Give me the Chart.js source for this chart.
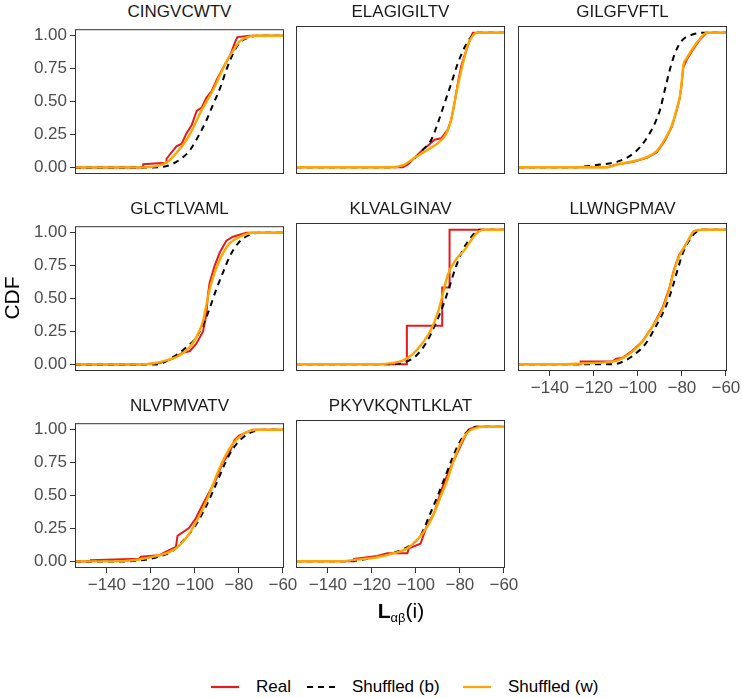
<!DOCTYPE html>
<html>
<head>
<meta charset="utf-8">
<script src="https://cdn.jsdelivr.net/npm/chart.js@4.4.1/dist/chart.umd.min.js"></script>
<style>
  body { margin: 0; background: #fff; font-family: 'Liberation Sans', Arial, sans-serif; }
  #wrap { position: relative; width: 742px; height: 698px; overflow: hidden; }
  #wrap canvas { position: absolute; }
  .strip { position: absolute; width: 209px; text-align: center; font-size: 17px; line-height: 20px; color: #1a1a1a; }
  .ytitle { position: absolute; left: -18px; top: 286px; width: 60px; text-align: center; font-size: 21px; line-height: 24px; transform: rotate(-90deg); color: #000; }
  .xtitle { position: absolute; left: 301px; top: 598px; width: 200px; text-align: center; font-size: 21px; line-height: 26px; color: #000; }
  .xtitle sub { font-size: 13px; vertical-align: -4px; }
  .key { position: absolute; top: 678px; }
  .ktext { position: absolute; top: 677px; font-size: 17px; line-height: 20px; color: #000; }
</style>
</head>
<body>
<div id="wrap"></div>
<script>
// facets, axis ticks
const panelNames = ['CINGVCWTV', 'ELAGIGILTV', 'GILGFVFTL', 'GLCTLVAML',
                    'KLVALGINAV', 'LLWNGPMAV', 'NLVPMVATV', 'PKYVKQNTLKLAT'];
const xTicks = [-140, -120, -100, -80, -60];
const yTicks = [0, 0.25, 0.5, 0.75, 1];

// CDF curves, [x, cdf] per panel
const realCdf = [
  [[-154.5,0],[-123.5,0],[-123.5,0.025],[-113,0.035],[-112.9,0.066],[-108.4,0.16],[-106,0.18],[-103.8,0.26],[-101.5,0.32],[-99.2,0.43],[-96.9,0.455],[-94.7,0.53],[-92.4,0.58],[-90.1,0.665],[-87.1,0.76],[-84,0.85],[-81.8,0.95],[-80.7,0.99],[-75,1],[-59.5,1]],
  [[-154.5,0],[-106,0],[-103.7,0.02],[-100.6,0.07],[-97.6,0.12],[-94.6,0.16],[-91.5,0.205],[-88.5,0.215],[-85.5,0.28],[-84,0.35],[-82.5,0.475],[-81,0.62],[-79.4,0.75],[-77.9,0.83],[-75.6,0.94],[-74.1,1],[-59.5,1]],
  [[-154.5,0],[-114,0],[-109.6,0.02],[-102,0.04],[-96,0.07],[-91.5,0.11],[-87.7,0.2],[-84.6,0.3],[-82.4,0.42],[-80.9,0.52],[-80.1,0.62],[-79.4,0.74],[-77.8,0.8],[-74.8,0.88],[-71.8,0.95],[-68.7,1],[-59.5,1]],
  [[-154.5,0],[-125,0],[-116,0.01],[-110,0.045],[-105.4,0.09],[-102.4,0.1],[-99.4,0.155],[-96.3,0.25],[-94.8,0.38],[-94.1,0.525],[-93.3,0.62],[-91,0.75],[-88.7,0.85],[-85.7,0.94],[-82.7,0.97],[-76.6,1],[-59.5,1]],
  [[-154.5,0],[-104.1,0.286],[-88.05,0.571],[-84.7,1],[-59.5,1]],
  [[-154.5,0],[-126,0],[-126,0.02],[-111.6,0.02],[-110,0.04],[-107.1,0.048],[-102.5,0.1],[-98,0.17],[-93.4,0.28],[-88.8,0.42],[-85.8,0.56],[-83.5,0.71],[-81.3,0.81],[-78.2,0.89],[-74.6,0.99],[-71,1],[-59.5,1]],
  [[-154.5,0],[-147.3,0],[-147.3,0.01],[-125.3,0.02],[-124.5,0.035],[-116.2,0.047],[-112.4,0.08],[-108.6,0.11],[-107.9,0.195],[-105.6,0.22],[-102.6,0.255],[-99.5,0.33],[-96.5,0.43],[-93.5,0.525],[-90.5,0.62],[-87.4,0.75],[-84.4,0.82],[-82.1,0.92],[-79.9,0.955],[-73.8,1],[-59.5,1]],
  [[-154.5,0],[-128.1,0],[-128.1,0.017],[-117.5,0.04],[-113,0.06],[-103.9,0.06],[-103.2,0.096],[-97.9,0.13],[-94.9,0.27],[-91.8,0.355],[-88,0.55],[-84.2,0.7],[-81.3,0.8],[-78.2,0.91],[-76,0.98],[-73,1],[-59.5,1]]
];
const shuffledB = [
  [[-154.5,0],[-120.4,0],[-112.9,0.01],[-106.8,0.06],[-102.3,0.13],[-97.7,0.26],[-94.7,0.36],[-91.7,0.48],[-88.6,0.6],[-85.5,0.75],[-82.5,0.87],[-79.5,0.95],[-75,0.99],[-70.4,1],[-59.5,1]],
  [[-154.5,0],[-110.5,0],[-102.1,0.045],[-96.9,0.13],[-93,0.205],[-90,0.33],[-87,0.475],[-84,0.62],[-81,0.77],[-77.9,0.89],[-74.9,0.97],[-72.6,1],[-59.5,1]],
  [[-154.5,0],[-130,0],[-124.8,0.005],[-117.2,0.02],[-109.6,0.04],[-103.6,0.085],[-99,0.15],[-95.3,0.235],[-92.2,0.33],[-89.9,0.43],[-87.7,0.58],[-85.4,0.73],[-83.1,0.85],[-80.1,0.94],[-75.5,0.985],[-70.3,1],[-59.5,1]],
  [[-154.5,0],[-117.5,0],[-110,0.055],[-103.9,0.13],[-99.4,0.205],[-95.5,0.33],[-93.3,0.425],[-90.3,0.57],[-87.2,0.7],[-84.2,0.82],[-80.4,0.92],[-75.1,0.985],[-69,1],[-59.5,1]],
  [[-154.5,0],[-110.5,0],[-104.4,0.02],[-99.9,0.064],[-95.3,0.16],[-90.8,0.31],[-87.8,0.43],[-84.7,0.58],[-81.7,0.73],[-78.7,0.85],[-76.4,0.91],[-73.4,0.975],[-71.1,1],[-59.5,1]],
  [[-154.5,0],[-111.6,0],[-105.5,0.03],[-101,0.08],[-96.4,0.155],[-91.9,0.28],[-87.3,0.43],[-84.3,0.57],[-82,0.7],[-79.7,0.82],[-76.7,0.92],[-73.7,0.98],[-70.6,1],[-59.5,1]],
  [[-154.5,0],[-132.9,0],[-117.7,0.03],[-110.2,0.08],[-104.1,0.18],[-99.5,0.28],[-95,0.415],[-92,0.525],[-89,0.64],[-85.9,0.76],[-82.1,0.87],[-78.3,0.94],[-73.8,0.985],[-67.7,1],[-59.5,1]],
  [[-154.5,0],[-135,0],[-125,0.01],[-110,0.064],[-102.4,0.12],[-97.9,0.19],[-94.1,0.33],[-89.8,0.5],[-86.2,0.65],[-83.3,0.77],[-80.3,0.88],[-76.6,0.965],[-72.2,1],[-59.5,1]]
];
const shuffledW = [
  [[-154.5,0],[-123.5,0],[-117.4,0.01],[-112.9,0.037],[-108.4,0.11],[-103.8,0.21],[-100.8,0.3],[-97.7,0.41],[-94.7,0.5],[-91.7,0.59],[-88.6,0.7],[-85.5,0.81],[-82.5,0.89],[-79.5,0.96],[-75,0.995],[-71.9,1],[-59.5,1]],
  [[-154.5,0],[-111.2,0],[-105.2,0.02],[-100.6,0.07],[-94.6,0.13],[-90,0.18],[-86.2,0.25],[-84,0.35],[-82.5,0.475],[-81,0.6],[-79.4,0.72],[-77.9,0.82],[-76.4,0.91],[-74.1,0.98],[-71.9,1],[-59.5,1]],
  [[-154.5,0],[-114.2,0],[-109.6,0.02],[-102.1,0.045],[-96,0.075],[-91.5,0.12],[-87.7,0.21],[-84.6,0.31],[-82.4,0.43],[-80.9,0.53],[-80.1,0.63],[-79.4,0.75],[-77.8,0.81],[-74.8,0.89],[-71.8,0.955],[-68.7,1],[-59.5,1]],
  [[-154.5,0],[-125.1,0],[-119,0.007],[-113,0.03],[-106.9,0.07],[-102.4,0.13],[-98.6,0.23],[-96.3,0.33],[-94.8,0.45],[-93.3,0.57],[-91,0.7],[-88,0.82],[-84.2,0.92],[-79.6,0.97],[-73.6,1],[-59.5,1]],
  [[-154.5,0],[-116.5,0],[-110.5,0.01],[-106,0.027],[-101.4,0.076],[-96.9,0.16],[-93,0.26],[-90,0.385],[-87.8,0.52],[-85.5,0.665],[-81.7,0.78],[-77.9,0.85],[-74.1,0.94],[-71.1,0.99],[-68.8,1],[-59.5,1]],
  [[-154.5,0],[-135,0],[-125.3,0.007],[-111.6,0.02],[-107.1,0.044],[-102.5,0.094],[-98,0.167],[-93.4,0.28],[-88.8,0.41],[-85.8,0.55],[-83.5,0.7],[-81.3,0.8],[-78.2,0.89],[-74.4,0.99],[-70.6,1],[-59.5,1]],
  [[-154.5,0],[-140,0],[-132.9,0.002],[-125.3,0.015],[-117.7,0.04],[-111.7,0.07],[-107.1,0.12],[-102.6,0.21],[-98.8,0.32],[-95,0.45],[-92,0.575],[-89,0.7],[-85.9,0.81],[-82.9,0.89],[-79.1,0.955],[-75.3,0.99],[-70.8,1],[-59.5,1]],
  [[-154.5,0],[-135,0],[-128.1,0.01],[-117.5,0.03],[-110,0.06],[-103.9,0.096],[-99.4,0.16],[-94.9,0.255],[-91.8,0.355],[-88.8,0.48],[-85.8,0.6],[-82.8,0.75],[-79.8,0.87],[-76.7,0.955],[-73,0.99],[-69.2,1],[-59.5,1]]
];
const steppedPanels = ['KLVALGINAV'];

const RED = '#e41a1c', ORANGE = '#ffa500';
const PW = 209, PH = 148, PAD_L = 60, PAD_T = 10, PAD_R = 25, PAD_B = 30;
const colLeft = [75, 296, 518], rowTop = [26, 223, 420];

const wrap = document.getElementById('wrap');
Chart.defaults.font.family = "'Liberation Sans', Arial, sans-serif";

// full border round each panel
const boxPlugin = {
  id: 'box',
  afterDatasetsDraw(chart) {
    const a = chart.chartArea, ctx = chart.ctx;
    ctx.save();
    ctx.strokeStyle = '#333';
    ctx.lineWidth = 1;
    ctx.strokeRect(a.left + 0.5, a.top + 0.5, a.right - a.left - 1, a.bottom - a.top - 1);
    ctx.restore();
  }
};

const minus = v => (v < 0 ? '\u2212' : '') + Math.abs(v);

panelNames.forEach((name, i) => {
  const col = i % 3, row = Math.floor(i / 3);
  const left = colLeft[col], top = rowTop[row];
  const showY = col === 0;
  const showX = i >= 5;

  const strip = document.createElement('div');
  strip.className = 'strip';
  strip.style.left = left + 'px';
  strip.style.top = (top - 24) + 'px';
  strip.textContent = name;
  wrap.appendChild(strip);

  const cv = document.createElement('canvas');
  cv.width = PAD_L + PW + PAD_R;
  cv.height = PAD_T + PH + PAD_B;
  cv.style.left = (left - PAD_L) + 'px';
  cv.style.top = (top - PAD_T) + 'px';
  wrap.appendChild(cv);

  new Chart(cv.getContext('2d'), {
    type: 'line',
    data: {
      datasets: [
        { label: 'Shuffled (w)', data: shuffledW[i], borderColor: ORANGE, borderWidth: 2.4,
          cubicInterpolationMode: 'monotone', order: 0 },
        { label: 'Shuffled (b)', data: shuffledB[i], borderColor: '#000', borderWidth: 2,
          borderDash: [6, 5], cubicInterpolationMode: 'monotone', order: 1 },
        { label: 'Real', data: realCdf[i], borderColor: RED, borderWidth: 2,
          stepped: steppedPanels.includes(name) ? 'before' : false, order: 2 }
      ]
    },
    options: {
      responsive: false,
      animation: false,
      layout: { padding: { top: PAD_T, right: PAD_R, left: 0, bottom: 0 } },
      elements: { point: { radius: 0 } },
      plugins: { legend: { display: false }, tooltip: { enabled: false } },
      scales: {
        x: {
          type: 'linear', min: -154.5, max: -59.5,
          afterFit: s => { s.height = PAD_B; },
          afterBuildTicks: s => { s.ticks = xTicks.map(v => ({ value: v })); },
          border: { display: false },
          grid: { display: showX, drawOnChartArea: false, tickLength: 5, color: '#333' },
          ticks: { display: showX, autoSkip: false, maxRotation: 0, padding: 2,
                   color: '#4d4d4d', font: { size: 17 }, callback: minus }
        },
        y: {
          type: 'linear', min: -0.05, max: 1.05,
          afterFit: s => { s.width = PAD_L; },
          afterBuildTicks: s => { s.ticks = yTicks.map(v => ({ value: v })); },
          border: { display: false },
          grid: { display: showY, drawOnChartArea: false, tickLength: 5, color: '#333' },
          ticks: { display: showY, padding: 3, color: '#4d4d4d', font: { size: 17 },
                   callback: v => v.toFixed(2) }
        }
      }
    },
    plugins: [boxPlugin]
  });
});

// axis titles
const yt = document.createElement('div');
yt.className = 'ytitle';
yt.textContent = 'CDF';
wrap.appendChild(yt);

const xt = document.createElement('div');
xt.className = 'xtitle';
xt.innerHTML = '<b>L</b><sub>\u03b1\u03b2</sub>(i)';
wrap.appendChild(xt);

// legend
const legendItems = [
  { text: 'Real', color: RED, dash: '', keyX: 211, textX: 256 },
  { text: 'Shuffled (b)', color: '#000', dash: '6,5', keyX: 307, textX: 352 },
  { text: 'Shuffled (w)', color: ORANGE, dash: '', keyX: 463, textX: 508 }
];
legendItems.forEach(it => {
  const k = document.createElement('div');
  k.className = 'key';
  k.style.left = it.keyX + 'px';
  k.innerHTML = '<svg width="28" height="18"><line x1="0" y1="9" x2="28" y2="9" stroke="' + it.color +
    '" stroke-width="2.2"' + (it.dash ? ' stroke-dasharray="' + it.dash + '"' : '') + '/></svg>';
  wrap.appendChild(k);
  const t = document.createElement('div');
  t.className = 'ktext';
  t.style.left = it.textX + 'px';
  t.textContent = it.text;
  wrap.appendChild(t);
});
</script>
</body>
</html>
